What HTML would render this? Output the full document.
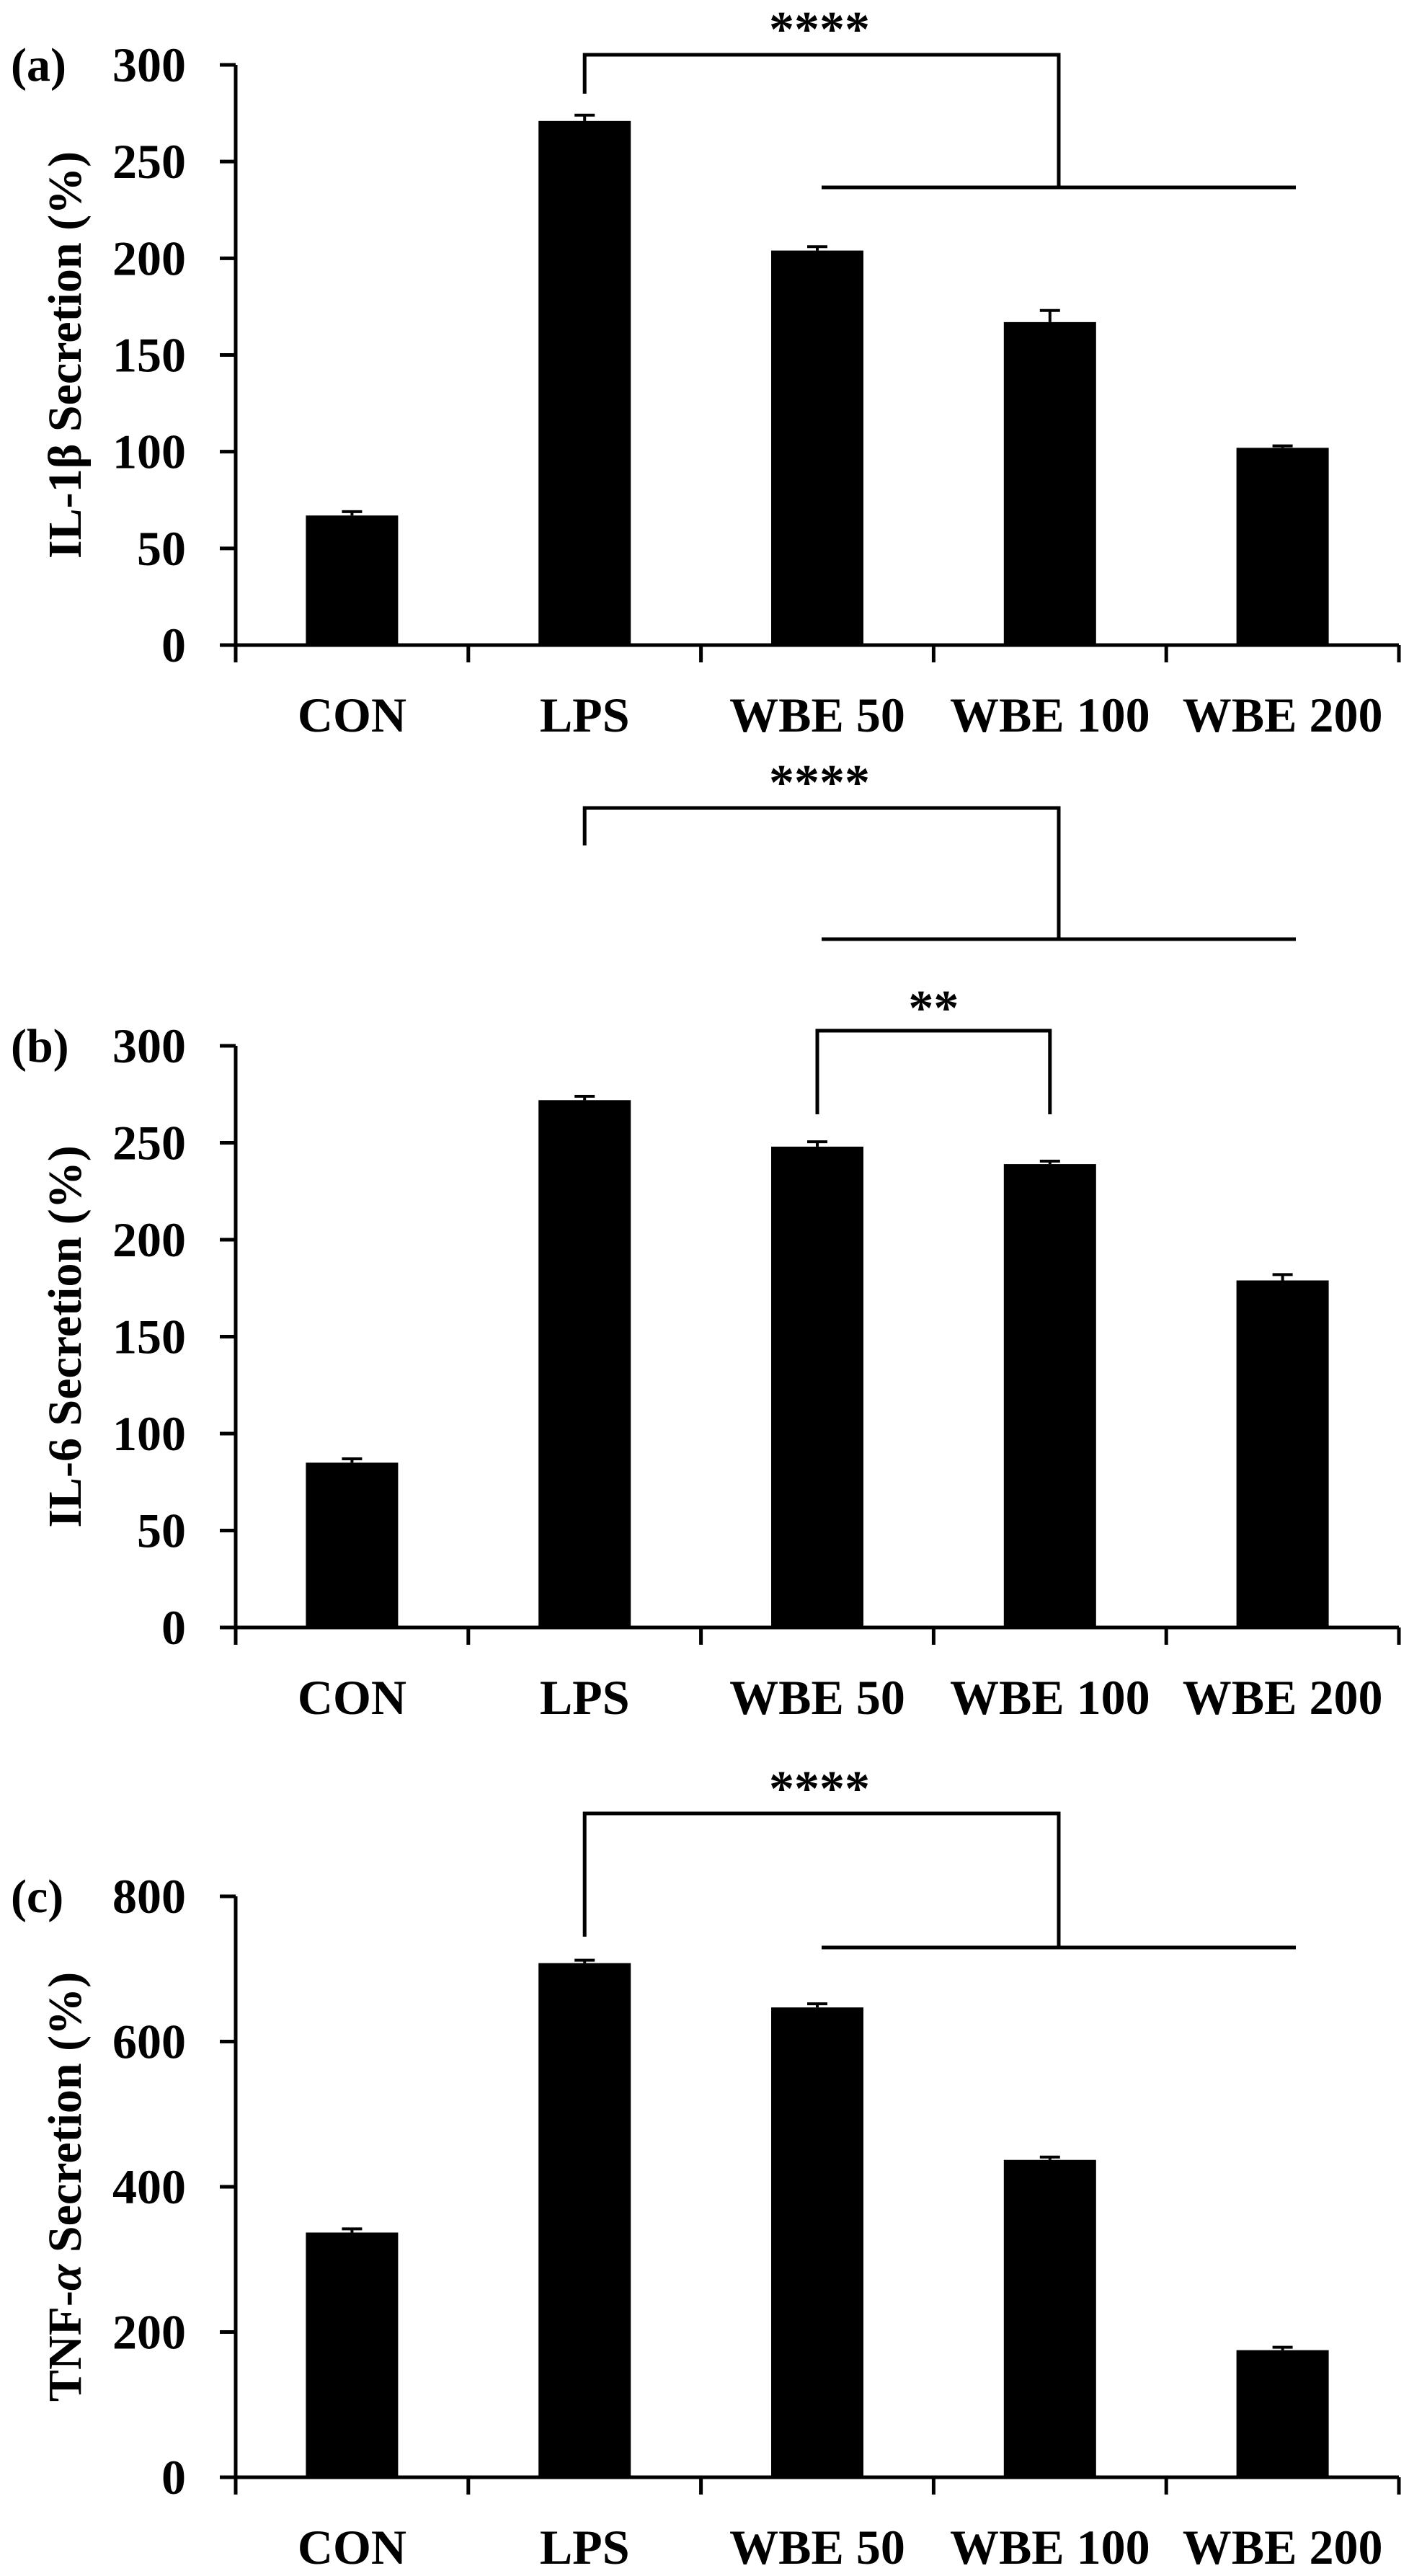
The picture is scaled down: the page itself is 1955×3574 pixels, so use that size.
<!DOCTYPE html>
<html><head><meta charset="utf-8"><style>
html,body{margin:0;padding:0;background:#fff;}
svg{display:block;}
text{font-family:"Liberation Serif",serif;font-weight:bold;fill:#000;}
</style></head>
<body>
<svg id="chart" width="1955" height="3574" viewBox="0 0 1955 3574"></svg>
<script>
const categories = ["CON","LPS","WBE 50","WBE 100","WBE 200"];
const il1bValues = [67, 271, 204, 167, 102];
const il1bErrors = [2, 3, 2, 6, 1];
const il6Values = [85, 272, 248, 239, 179];
const il6Errors = [2, 2, 2.5, 1.5, 3];
const tnfValues = [337, 708, 647, 437, 175];
const tnfErrors = [5, 4, 5, 4, 4];
const il1bTicks = [0, 50, 100, 150, 200, 250, 300];
const il6Ticks = [0, 50, 100, 150, 200, 250, 300];
const tnfTicks = [0, 200, 400, 600, 800];

const NS = "http://www.w3.org/2000/svg";
const svg = document.getElementById("chart");
function mk(tag, attrs, parent){
  const e = document.createElementNS(NS, tag);
  for (const k in attrs) e.setAttribute(k, attrs[k]);
  (parent||svg).appendChild(e);
  return e;
}
const X0 = 327, X1 = 1941, BW = 128;
const step = (X1 - X0) / categories.length;
function xc(i){ return X0 + step*(i+0.5); }

function panel(key, letter, title, values, errors, ticks, yTop, yBot, yMax){
  const g = mk("g", {});
  
  
  const y = v => yBot - (v / yMax) * (yBot - yTop);
  values.forEach((v,i)=>{
    const b = mk("rect", {x: xc(i)-BW/2, y: y(v), width: BW, height: yBot - y(v), fill:"#000"}, g);
    
    
    const e = mk("path", {d:`M${xc(i)},${y(v)} V${y(v+errors[i])} M${xc(i)-14},${y(v+errors[i])} H${xc(i)+14}`, stroke:"#000","stroke-width":4, fill:"none"}, g);
    
    
  });
  const ax = mk("path", {d:`M${X0},${yTop} V${yBot} H${X1}`, stroke:"#000","stroke-width":5, fill:"none"}, g);
  
  
  ticks.forEach(t=>{
    mk("line",{x1:X0-22,x2:X0,y1:y(t),y2:y(t),stroke:"#000","stroke-width":5},g);
    const tl = mk("text",{x:258,y:y(t)+23,"text-anchor":"end","font-size":68},g);
    tl.textContent = t;
    
    
  });
  for(let i=0;i<=categories.length;i++){
    const xx = X0 + step*i;
    mk("line",{x1:xx,x2:xx,y1:yBot,y2:yBot+24,stroke:"#000","stroke-width":5},g);
  }
  categories.forEach((c,i)=>{
    const tl = mk("text",{x:xc(i),y:yBot+120,"text-anchor":"middle","font-size":68},g);
    tl.textContent = c;
    
    
  });
  const pl = mk("text",{x:15,y:yTop+22,"font-size":66},g);
  pl.textContent = letter;
  
  
  const yc = (yTop+yBot)/2;
  const yt = mk("text",{x:0,y:0,"text-anchor":"middle","font-size":66,transform:`translate(112,${yc}) rotate(-90)`},g);
  yt.innerHTML = title;
  
  
  return g;
}

function bracket(key, topY, dropY, lineY, starsY){
  const g = mk("g", {});
  
  
  mk("path",{d:`M${xc(1)},${dropY} V${topY} H1469 V${lineY} M1140,${lineY} H1798`,stroke:"#000","stroke-width":5,fill:"none"},g);
  const s = mk("text",{x:1137,y:starsY+30,"text-anchor":"middle","font-size":70},g);
  s.textContent = "****";
  
  
}

panel("il1b","(a)","IL-1β Secretion (%)", il1bValues, il1bErrors, il1bTicks, 90, 895, 300);
bracket("il1b", 76, 130, 260, 34);

panel("il6","(b)","IL-6 Secretion (%)", il6Values, il6Errors, il6Ticks, 1451, 2258, 300);
bracket("il6", 1121, 1173, 1303, 1079);
{
  const g = mk("g", {});
  
  
  mk("path",{d:`M${xc(2)},1546 V1430 H${xc(3)} V1546`,stroke:"#000","stroke-width":5,fill:"none"},g);
  const s = mk("text",{x:(xc(2)+xc(3))/2,y:1422,"text-anchor":"middle","font-size":70},g);
  s.textContent = "**";
  
  
}

panel("tnf","(c)","TNF-<tspan font-style=\"italic\">α</tspan> Secretion (%)", tnfValues, tnfErrors, tnfTicks, 2631, 3437, 800);
bracket("tnf", 2516, 2687, 2702, 2475);
</script>
</body></html>
